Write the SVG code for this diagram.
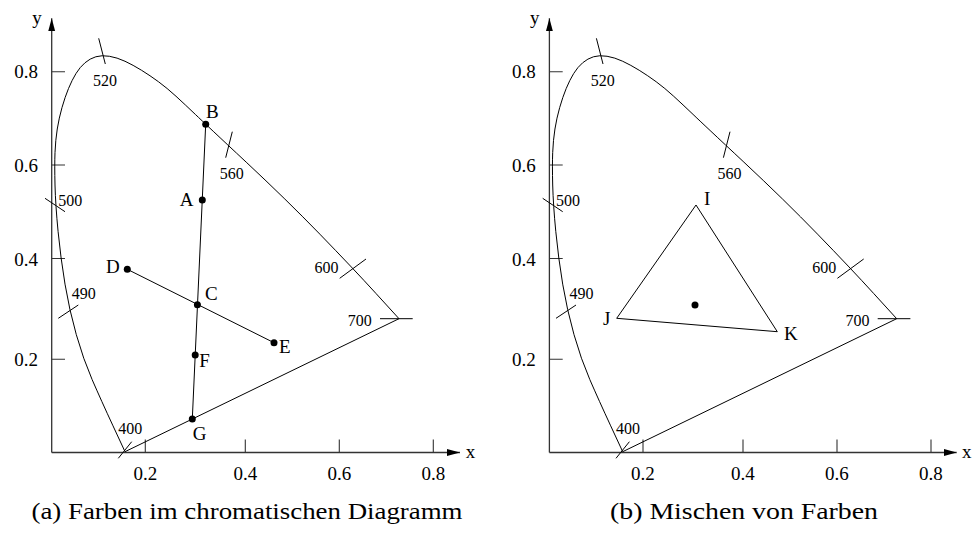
<svg xmlns="http://www.w3.org/2000/svg" width="974" height="547" viewBox="0 0 974 547">
<style>
.ln{stroke:#000;stroke-width:1;fill:none}
.ax{stroke:#333;stroke-width:1.3;fill:none}
.tk{stroke:#333;stroke-width:1.1;fill:none}
text{font-family:"Liberation Serif","Times New Roman",serif;fill:#000}
.lb{font-size:19px}
.wl{font-size:16px}
.cap{font-size:24px}
.dot{fill:#000}
</style>
<defs>
<marker id="arr" markerUnits="userSpaceOnUse" markerWidth="14" markerHeight="8" refX="13" refY="3.5" orient="auto">
<path d="M0,0 L13,3.5 L0,7 z" fill="#000"/>
</marker>
<path id="locus" d="M125,451.7 L113,425.85 Q101,400 92.15,379.65 Q83.3,359.3 76.3,334.65 Q69.3,310 65,284.15 Q60.7,258.3 58.1,231.65 Q55.5,205 55,185 Q54.5,165 55,152.5 Q55.5,140 57.25,129 Q59,118 62,107.5 Q65,97 68.5,88.5 Q72,80 76,73.5 Q80,67 85,62.75 Q90,58.5 95.85,56.75 Q101.7,55 109.35,56.25 Q117,57.5 125,61.25 Q133,65 141.5,70.25 Q150,75.5 158.5,81.75 Q167,88 176,96.25 Q185,104.5 195.35,114.4 Q205.7,124.3 246.2,162.15 Q286.7,200 319.85,234.15 Q353,268.3 376,293.5 L399,318.7 L125,451.7"/>
</defs>

<!-- Chart (a) -->
<g id="chart-a">
  <g id="axes-a">
    <line class="ax" x1="51.7" y1="452.5" x2="51.7" y2="18.3" marker-end="url(#arr)"/>
    <line class="ax" x1="51.7" y1="452.5" x2="460" y2="452.5" marker-end="url(#arr)"/>
    <path class="tk" d="M51.7,71.7 h13.3 M51.7,165 h13.3 M51.7,258.5 h13.3 M51.7,359.3 h13.3 M145.3,452.5 v-13 M245.3,452.5 v-13 M339.3,452.5 v-13 M433.3,452.5 v-13"/>
    <text class="lb" x="37" y="24" text-anchor="middle">y</text>
    <text class="lb" x="470.5" y="458" text-anchor="middle">x</text>
    <g class="lb" text-anchor="end">
      <text class="lb" x="38" y="78">0.8</text>
      <text class="lb" x="38" y="171.5">0.6</text>
      <text class="lb" x="38" y="265.5">0.4</text>
      <text class="lb" x="38" y="366">0.2</text>
    </g>
    <g text-anchor="middle">
      <text class="lb" x="145.3" y="480">0.2</text>
      <text class="lb" x="245.3" y="480">0.4</text>
      <text class="lb" x="339.3" y="480">0.6</text>
      <text class="lb" x="433.3" y="480">0.8</text>
    </g>
  </g>
  <g id="locus-a">
    <use href="#locus" class="ln"/>
    <path class="ln" d="M98.7,38.3 L105.3,64 M225.7,157.7 L232.3,131.7 M339.7,278.3 L366,259 M380,318.7 L412.7,318.7 M45,198.3 L65,211.7 M58.3,318.3 L78.3,305 M118.3,458.3 L131.7,441.7"/>
    <text class="wl" x="105" y="85.5" text-anchor="middle">520</text>
    <text class="wl" x="231.7" y="179" text-anchor="middle">560</text>
    <text class="wl" x="338.5" y="272.5" text-anchor="end">600</text>
    <text class="wl" x="371.7" y="325.5" text-anchor="end">700</text>
    <text class="wl" x="58.3" y="205.5">500</text>
    <text class="wl" x="71.7" y="299">490</text>
    <text class="wl" x="118.3" y="433.5">400</text>
  </g>
  <g id="connectors-a">
    <line class="ln" x1="205.7" y1="124.3" x2="192.3" y2="419"/>
    <line class="ln" x1="127.3" y1="269.3" x2="274" y2="342.7"/>
  </g>
  <g id="node-B"><circle class="dot" cx="205.7" cy="124.3" r="3.5"/><text class="lb" x="206" y="118.3">B</text></g>
  <g id="node-A"><circle class="dot" cx="202.3" cy="200" r="3.5"/><text class="lb" x="193.5" y="206" text-anchor="end">A</text></g>
  <g id="node-C"><circle class="dot" cx="197.4" cy="304.7" r="3.5"/><text class="lb" x="205" y="300">C</text></g>
  <g id="node-D"><circle class="dot" cx="127.3" cy="269.3" r="3.5"/><text class="lb" x="106" y="272.7">D</text></g>
  <g id="node-E"><circle class="dot" cx="274" cy="342.7" r="3.5"/><text class="lb" x="279" y="353.3">E</text></g>
  <g id="node-F"><circle class="dot" cx="195.2" cy="355" r="3.5"/><text class="lb" x="199.3" y="366.7">F</text></g>
  <g id="node-G"><circle class="dot" cx="192.3" cy="419" r="3.5"/><text class="lb" x="192.7" y="440">G</text></g>
  <text class="cap" x="247" y="519" text-anchor="middle" textLength="431" lengthAdjust="spacingAndGlyphs">(a) Farben im chromatischen Diagramm</text>
</g>

<!-- Chart (b) -->
<g id="chart-b">
  <g id="axes-b" transform="translate(497.7 0)">
    <line class="ax" x1="51.7" y1="452.5" x2="51.7" y2="18.3" marker-end="url(#arr)"/>
    <line class="ax" x1="51.7" y1="452.5" x2="459" y2="452.5" marker-end="url(#arr)"/>
    <path class="tk" d="M51.7,71.7 h13.3 M51.7,165 h13.3 M51.7,258.5 h13.3 M51.7,359.3 h13.3 M145.3,452.5 v-13 M245.3,452.5 v-13 M339.3,452.5 v-13 M433.3,452.5 v-13"/>
    <text class="lb" x="37" y="24" text-anchor="middle">y</text>
    <text class="lb" x="469" y="458" text-anchor="middle">x</text>
    <g text-anchor="end">
      <text class="lb" x="38" y="78">0.8</text>
      <text class="lb" x="38" y="171.5">0.6</text>
      <text class="lb" x="38" y="265.5">0.4</text>
      <text class="lb" x="38" y="366">0.2</text>
    </g>
    <g text-anchor="middle">
      <text class="lb" x="145.3" y="480">0.2</text>
      <text class="lb" x="245.3" y="480">0.4</text>
      <text class="lb" x="339.3" y="480">0.6</text>
      <text class="lb" x="433.3" y="480">0.8</text>
    </g>
  </g>
  <g id="locus-b" transform="translate(497.7 0)">
    <use href="#locus" class="ln"/>
    <path class="ln" d="M98.7,38.3 L105.3,64 M225.7,157.7 L232.3,131.7 M339.7,278.3 L366,259 M380,318.7 L412.7,318.7 M45,198.3 L65,211.7 M58.3,318.3 L78.3,305 M118.3,458.3 L131.7,441.7"/>
    <text class="wl" x="105" y="85.5" text-anchor="middle">520</text>
    <text class="wl" x="231.7" y="179" text-anchor="middle">560</text>
    <text class="wl" x="338.5" y="272.5" text-anchor="end">600</text>
    <text class="wl" x="371.7" y="325.5" text-anchor="end">700</text>
    <text class="wl" x="58.3" y="205.5">500</text>
    <text class="wl" x="71.7" y="299">490</text>
    <text class="wl" x="118.3" y="433.5">400</text>
  </g>
  <g id="connectors-b">
    <line class="ln" x1="696" y1="205" x2="616.7" y2="318.3"/>
    <line class="ln" x1="616.7" y1="318.3" x2="777.3" y2="331.7"/>
    <line class="ln" x1="777.3" y1="331.7" x2="696" y2="205"/>
  </g>
  <g id="node-I"><text class="lb" x="704" y="205">I</text></g>
  <g id="node-J"><text class="lb" x="603" y="324.5">J</text></g>
  <g id="node-K"><text class="lb" x="784" y="339.5">K</text></g>
  <g id="node-mix"><circle class="dot" cx="695" cy="305" r="3.5"/></g>
  <text class="cap" x="744" y="519" text-anchor="middle" textLength="268" lengthAdjust="spacingAndGlyphs">(b) Mischen von Farben</text>
</g>
</svg>
